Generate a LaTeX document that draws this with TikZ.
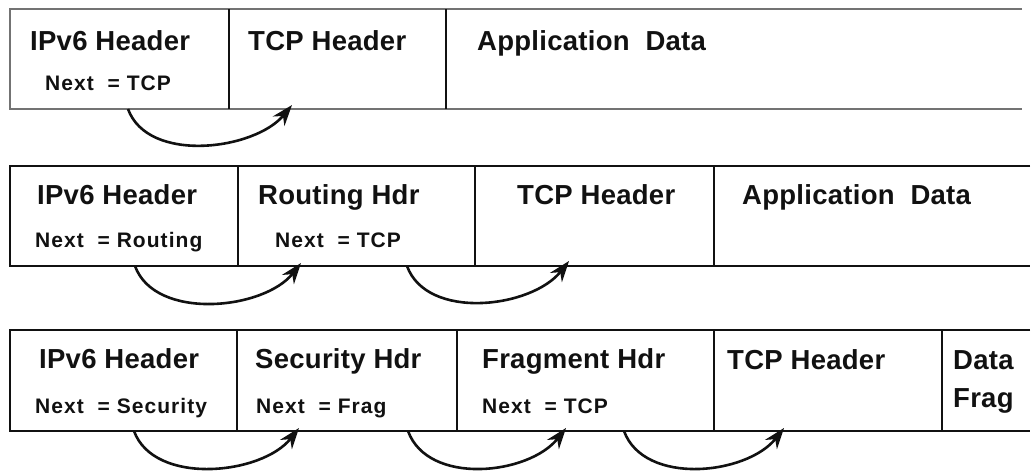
\documentclass[tikz,border=0pt]{standalone}
\usepackage{fontspec}
\setmainfont{Liberation Sans}
\newfontfamily\hdrfont{Liberation Sans}[LetterSpace=1]
\newfontfamily\nextfont{Liberation Sans}[LetterSpace=5]
\usetikzlibrary{arrows.meta}
\definecolor{ink}{HTML}{111111}
\begin{document}
\begin{tikzpicture}[x=1pt,y=-1pt,
  cell/.style={rectangle, inner sep=0pt, outer sep=0pt, anchor=north west},
  hdr/.style={anchor=base west, inner sep=0pt, text=ink,
    font=\hdrfont\bfseries\fontsize{27.5}{30}\selectfont},
  nxt/.style={anchor=base west, inner sep=0pt, text=ink,
    font=\nextfont\bfseries\fontsize{21}{24}\selectfont},
  framelight/.style={draw=black!55, line width=2.4pt},
  framedark/.style={draw=ink, line width=2.4pt},
  divider/.style={draw=ink, line width=2.6pt},
  hop/.style={draw=ink, line width=2.6pt, -{Stealth[length=21pt,width=15pt]}}]
\useasboundingbox (0,0) rectangle (1032,472);

% ---- packet 1: IPv6 + TCP ----
\node[cell, minimum width=219pt, minimum height=100pt] (p1a) at (10,9) {};
\node[cell, minimum width=217pt, minimum height=100pt] (p1b) at (229,9) {};
\node[cell, minimum width=576pt, minimum height=100pt] (p1c) at (446,9) {};
\draw[framelight] (p1c.north east) -- (p1a.north west) -- (p1a.south west) -- (p1c.south east);
\draw[divider] (p1a.north east) -- (p1a.south east);
\draw[divider] (p1b.north east) -- (p1b.south east);
\node[hdr] (p1at) at (30,50) {IPv6 Header};
\node[nxt] (p1an) at (45,90) {Next\ \ = TCP};
\node[hdr] (p1bt) at (248,50) {TCP Header};
\node[hdr] (p1ct) at (477,50) {Application\ \ Data};
\draw[hop] ([xshift=8.5pt]p1a.south) .. controls +(20,55) and +(-37,45) .. ([xshift=-45.5pt,yshift=4pt]p1b.south);

% ---- packet 2: IPv6 + Routing + TCP ----
\node[cell, minimum width=228pt, minimum height=100pt] (p2a) at (10,166) {};
\node[cell, minimum width=237pt, minimum height=100pt] (p2b) at (238,166) {};
\node[cell, minimum width=239pt, minimum height=100pt] (p2c) at (475,166) {};
\node[cell, minimum width=316pt, minimum height=100pt] (p2d) at (714,166) {};
\draw[framedark] (p2d.north east) -- (p2a.north west) -- (p2a.south west) -- (p2d.south east);
\draw[divider] (p2a.north east) -- (p2a.south east);
\draw[divider] (p2b.north east) -- (p2b.south east);
\draw[divider] (p2c.north east) -- (p2c.south east);
\node[hdr] (p2at) at (37,204) {IPv6 Header};
\node[nxt] (p2an) at (35,247) {Next\ \ = Routing};
\node[hdr] (p2bt) at (258,204) {Routing Hdr};
\node[nxt] (p2bn) at (275,247) {Next\ \ = TCP};
\node[hdr] (p2ct) at (517,204) {TCP Header};
\node[hdr] (p2dt) at (742,204) {Application\ \ Data};
\draw[hop] ([xshift=11pt]p2a.south) .. controls +(20,55) and +(-37,47) .. ([xshift=-55.5pt,yshift=3pt]p2b.south);
\draw[hop] ([xshift=50.5pt]p2b.south) .. controls +(20,55) and +(-37,47) .. ([xshift=-25.5pt,yshift=5pt]p2c.south);

% ---- packet 3: IPv6 + Security + Fragment + TCP + data ----
\node[cell, minimum width=227pt, minimum height=101pt] (p3a) at (10,330) {};
\node[cell, minimum width=220pt, minimum height=101pt] (p3b) at (237,330) {};
\node[cell, minimum width=257pt, minimum height=101pt] (p3c) at (457,330) {};
\node[cell, minimum width=228pt, minimum height=101pt] (p3d) at (714,330) {};
\node[cell, minimum width=88pt, minimum height=101pt] (p3e) at (942,330) {};
\draw[framedark] (p3e.north east) -- (p3a.north west) -- (p3a.south west) -- (p3e.south east);
\draw[divider] (p3a.north east) -- (p3a.south east);
\draw[divider] (p3b.north east) -- (p3b.south east);
\draw[divider] (p3c.north east) -- (p3c.south east);
\draw[divider] (p3d.north east) -- (p3d.south east);
\node[hdr] (p3at) at (39,368) {IPv6 Header};
\node[nxt] (p3an) at (35,413) {Next\ \ = Security};
\node[hdr] (p3bt) at (255,368) {Security Hdr};
\node[nxt] (p3bn) at (256,413) {Next\ \ = Frag};
\node[hdr] (p3ct) at (482,368) {Fragment Hdr};
\node[nxt] (p3cn) at (482,413) {Next\ \ = TCP};
\node[hdr] (p3dt) at (727,369) {TCP Header};
\node[hdr] (p3et) at (953,369) {Data};
\node[hdr] (p3ef) at (953,407) {Frag};
\draw[hop] ([xshift=10.5pt]p3a.south) .. controls +(20,55) and +(-37,47) .. ([xshift=-48pt,yshift=3pt]p3b.south);
\draw[hop] ([xshift=61pt]p3b.south) .. controls +(20,55) and +(-37,47) .. ([xshift=-19.5pt,yshift=3pt]p3c.south);
\draw[hop] ([xshift=38.5pt]p3c.south) .. controls +(20,55) and +(-37,47) .. ([xshift=-44pt,yshift=3pt]p3d.south);
\end{tikzpicture}
\end{document}
